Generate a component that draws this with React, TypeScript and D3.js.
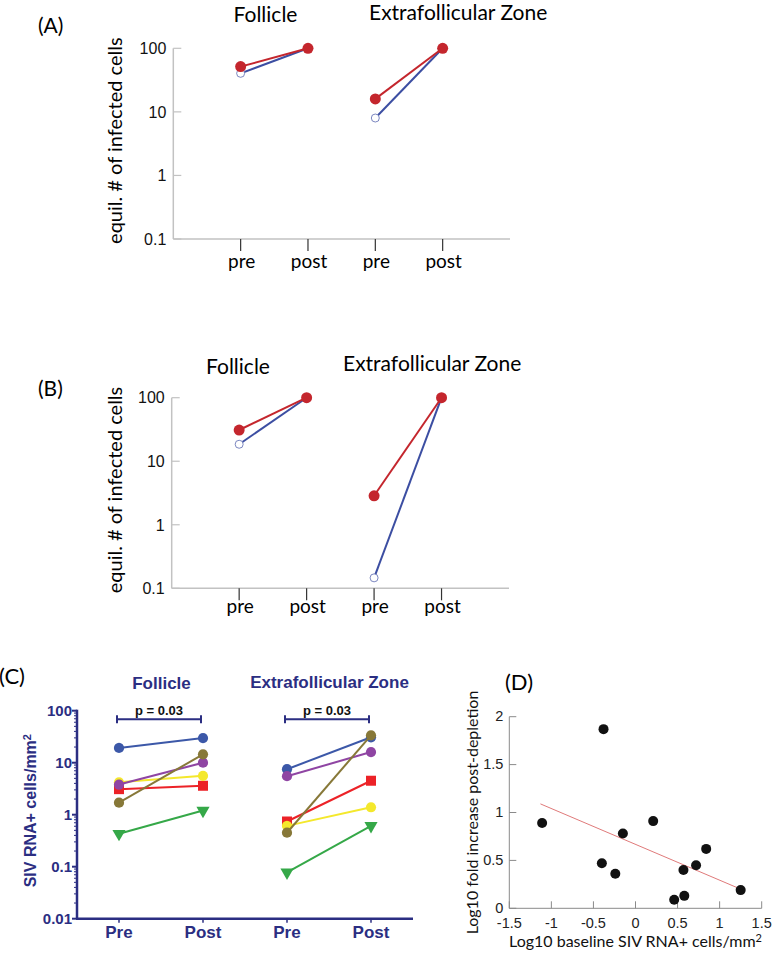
import React, { useRef, useEffect } from 'react';
import * as d3 from 'd3';

// (A) and (B): model equilibrium, pre vs post depletion
const abCategories = ['pre', 'post', 'pre', 'post'];
const abTicks = [0.1, 1, 10, 100];
const aFollicleRed = [51.5, 100];
const aFollicleBlue = [40.4, 100];
const aExtraRed = [16, 100];
const aExtraBlue = [8, 100];
const bFollicleRed = [31, 100];
const bFollicleBlue = [18.5, 100];
const bExtraRed = [2.86, 100];
const bExtraBlue = [0.146, 100];

// (C): SIV RNA+ cells per animal
const cCategories = ['Pre', 'Post', 'Pre', 'Post'];
const cTicks = [0.01, 0.1, 1, 10, 100];
const cColors = ['#3c58a8', '#ec2227', '#f4e82c', '#8f45a3', '#877838', '#35a848'];
const cShapes = ['circle', 'square', 'circle', 'circle', 'circle', 'triangle'];
const cFollicle = [[19.2, 29.8], [3.1, 3.6], [4.2, 5.6], [3.8, 10], [1.7, 14.5], [0.43, 1.2]];
const cExtra = [[7.5, 30.8], [0.74, 4.5], [0.61, 1.39], [5.5, 16], [0.45, 33.6], [0.078, 0.61]];
const cPValues = ['p = 0.03', 'p = 0.03'];

// (D): fold increase vs baseline
const dTicksX = [-1.5, -1, -0.5, 0, 0.5, 1, 1.5];
const dTicksY = [0, 0.5, 1, 1.5, 2];
const dBaseline = [-1.11, -0.38, -0.4, -0.24, -0.15, 0.21, 0.46, 0.57, 0.58, 0.72, 0.84, 1.25];
const dFold = [0.89, 1.87, 0.47, 0.36, 0.78, 0.91, 0.09, 0.4, 0.13, 0.45, 0.62, 0.19];
const dFitX = [-1.13, 1.25];
const dFitY = [1.09, 0.2];

const calibri = 'Lato, "Open Sans", sans-serif';
const arial = '"Liberation Sans", Arial, sans-serif';
const navy = '#2b2e82';

const drawModel = (svg, cfg, reds, blues) => {
  const x = d3.scaleLinear().domain([0, 5]).range([cfg.left, cfg.right]);
  const y = d3.scaleLog().domain([0.1, 100]).range([cfg.bottom, cfg.top]);
  const g = svg.append('g');

  g.append('text').attr('x', 38).attr('y', cfg.tagY).attr('font-family', calibri)
    .attr('font-size', 21).text(cfg.tag);
  g.append('text').attr('x', cfg.follicleX).attr('y', cfg.follicleY).attr('text-anchor', 'middle')
    .attr('font-family', calibri).attr('font-size', 21).text('Follicle');
  g.append('text').attr('x', cfg.extraX).attr('y', cfg.extraY)
    .attr('font-family', calibri).attr('font-size', 21).text('Extrafollicular Zone');

  // y axis, ticks point inward
  g.append('line').attr('x1', cfg.left).attr('x2', cfg.left).attr('y1', y(100)).attr('y2', y(0.1))
    .attr('stroke', '#c2c2c2').attr('stroke-width', 1.5);
  abTicks.forEach(t => {
    g.append('line').attr('x1', cfg.left).attr('x2', cfg.left + 8).attr('y1', y(t)).attr('y2', y(t))
      .attr('stroke', '#c2c2c2').attr('stroke-width', 1.2);
    g.append('text').attr('x', cfg.left - 7).attr('y', y(t)).attr('dy', '0.36em')
      .attr('text-anchor', 'end').attr('font-family', arial).attr('font-size', 16).attr('fill', '#111')
      .text(t);
  });
  g.append('text')
    .attr('transform', `translate(115,${(y(100) + y(0.1)) / 2 - 3}) rotate(-90)`)
    .attr('text-anchor', 'middle').attr('dy', '0.35em').attr('font-family', calibri).attr('font-size', 20)
    .text('equil. # of infected cells');

  // x axis
  g.append('line').attr('x1', cfg.left).attr('x2', cfg.right).attr('y1', cfg.bottom).attr('y2', cfg.bottom)
    .attr('stroke', '#c2c2c2').attr('stroke-width', 1.5);
  abCategories.forEach((c, i) => {
    g.append('line').attr('x1', x(i + 1)).attr('x2', x(i + 1)).attr('y1', cfg.bottom).attr('y2', cfg.bottom + 12)
      .attr('stroke', '#333').attr('stroke-width', 1.2);
    g.append('text').attr('x', x(i + 1) + 1).attr('y', cfg.labelY).attr('text-anchor', 'middle')
      .attr('font-family', calibri).attr('font-size', 19).text(c);
  });

  const line = d3.line().x(d => d[0]).y(d => d[1]);
  [0, 1].forEach(k => {
    const xs = [x(2 * k + 1), x(2 * k + 2)];
    const bPts = blues[k].map((v, i) => [xs[i], y(v)]);
    const rPts = reds[k].map((v, i) => [xs[i], y(v)]);
    g.append('path').attr('d', line(bPts)).attr('fill', 'none').attr('stroke', '#3c4ea2').attr('stroke-width', 2);
    g.selectAll(null).data(bPts).enter().append('circle')
      .attr('cx', d => d[0]).attr('cy', d => d[1]).attr('r', 4)
      .attr('fill', 'white').attr('stroke', '#5a68b0').attr('stroke-width', 0.8);
    g.append('path').attr('d', line(rPts)).attr('fill', 'none').attr('stroke', '#c4262d').attr('stroke-width', 2);
    g.selectAll(null).data(rPts).enter().append('circle')
      .attr('cx', d => d[0]).attr('cy', d => d[1]).attr('r', 5.5).attr('fill', '#c4262d');
  });
};

const drawMeasured = (svg) => {
  const x = d3.scaleLinear().domain([-0.5, 3.5]).range([77, 413]);
  const y = d3.scaleLog().domain([0.01, 100]).range([918.7, 710.7]);
  const g = svg.append('g');

  g.append('text').attr('x', -1).attr('y', 684).attr('font-family', calibri).attr('font-size', 22).text('(C)');
  g.append('text').attr('x', 161.5).attr('y', 689).attr('text-anchor', 'middle').attr('font-family', arial)
    .attr('font-weight', 'bold').attr('font-size', 17).attr('fill', navy).text('Follicle');
  g.append('text').attr('x', 329.5).attr('y', 688).attr('text-anchor', 'middle').attr('font-family', arial)
    .attr('font-weight', 'bold').attr('font-size', 17).attr('fill', navy).text('Extrafollicular Zone');

  // y axis with log minor ticks
  const left = x(-0.5);
  g.append('line').attr('x1', left).attr('x2', left).attr('y1', y(100) - 1).attr('y2', y(0.01))
    .attr('stroke', navy).attr('stroke-width', 2.5);
  cTicks.forEach(t => {
    g.append('line').attr('x1', left - 5).attr('x2', left).attr('y1', y(t)).attr('y2', y(t))
      .attr('stroke', navy).attr('stroke-width', 2);
    g.append('text').attr('x', left - 5).attr('y', y(t)).attr('dy', '0.36em').attr('text-anchor', 'end')
      .attr('font-family', arial).attr('font-weight', 'bold').attr('font-size', 15).attr('fill', navy)
      .text(t);
  });
  cTicks.slice(0, -1).forEach(t => {
    d3.range(2, 10).forEach(m => {
      g.append('line').attr('x1', left - 3).attr('x2', left).attr('y1', y(t * m)).attr('y2', y(t * m))
        .attr('stroke', navy).attr('stroke-width', 1);
    });
  });
  const yl = g.append('text')
    .attr('transform', `translate(30,${(y(100) + y(0.01)) / 2 - 4}) rotate(-90)`)
    .attr('text-anchor', 'middle').attr('dy', '0.35em').attr('font-family', arial).attr('font-weight', 'bold')
    .attr('font-size', 16).attr('fill', navy);
  yl.append('tspan').text('SIV RNA+ cells/mm');
  yl.append('tspan').attr('dy', '-0.45em').attr('font-size', 11).text('2');

  // x axis
  g.append('line').attr('x1', left - 1).attr('x2', x(3.5)).attr('y1', y(0.01)).attr('y2', y(0.01))
    .attr('stroke', navy).attr('stroke-width', 2.5);
  cCategories.forEach((c, i) => {
    g.append('line').attr('x1', x(i)).attr('x2', x(i)).attr('y1', y(0.01)).attr('y2', y(0.01) + 4)
      .attr('stroke', navy).attr('stroke-width', 1.5);
    g.append('text').attr('x', x(i)).attr('y', 938).attr('text-anchor', 'middle').attr('font-family', arial)
      .attr('font-weight', 'bold').attr('font-size', 17).attr('fill', navy).text(c);
  });

  // significance brackets
  cPValues.forEach((p, k) => {
    const x1 = x(2 * k) - 2;
    const x2 = x(2 * k + 1) - 2;
    const by = 719.3;
    g.append('path').attr('d', `M${x1},${by - 4}V${by + 4}M${x1},${by}H${x2}M${x2},${by - 4}V${by + 4}`)
      .attr('fill', 'none').attr('stroke', navy).attr('stroke-width', 2);
    g.append('text').attr('x', (x1 + x2) / 2).attr('y', 714.5).attr('text-anchor', 'middle')
      .attr('font-family', arial).attr('font-weight', 'bold').attr('font-size', 13).attr('fill', '#111').text(p);
  });

  const line = d3.line().x(d => d[0]).y(d => d[1]);
  const symbolFor = (s) => {
    if (s === 'square') return d3.symbol(d3.symbolSquare, 100)();
    if (s === 'triangle') return d3.symbol(d3.symbolTriangle, 75)();
    return d3.symbol(d3.symbolCircle, 82)();
  };
  [cFollicle, cExtra].forEach((grp, k) => {
    grp.forEach((vals, s) => {
      const pts = vals.map((v, i) => [x(2 * k + i), y(v)]);
      g.append('path').attr('d', line(pts)).attr('fill', 'none').attr('stroke', cColors[s]).attr('stroke-width', 2);
      pts.forEach(p => {
        g.append('path').attr('d', symbolFor(cShapes[s]))
          .attr('transform', `translate(${p[0]},${p[1]})${cShapes[s] === 'triangle' ? ' rotate(180)' : ''}`)
          .attr('fill', cColors[s]);
      });
    });
  });
};

const drawScatter = (svg) => {
  const x = d3.scaleLinear().domain([-1.5, 1.5]).range([509.3, 761.7]);
  const y = d3.scaleLinear().domain([0, 2]).range([908.3, 716.7]);
  const g = svg.append('g');
  const grey = '#8a8a8a';

  g.append('text').attr('x', 505).attr('y', 690).attr('font-family', calibri).attr('font-size', 22).text('(D)');

  g.append('line').attr('x1', x(-1.5)).attr('x2', x(-1.5)).attr('y1', y(2)).attr('y2', y(0))
    .attr('stroke', grey).attr('stroke-width', 1);
  g.append('line').attr('x1', x(-1.5)).attr('x2', x(1.5)).attr('y1', y(0)).attr('y2', y(0))
    .attr('stroke', grey).attr('stroke-width', 1);
  dTicksY.forEach(t => {
    g.append('line').attr('x1', x(-1.5)).attr('x2', x(-1.5) + 7).attr('y1', y(t)).attr('y2', y(t))
      .attr('stroke', grey).attr('stroke-width', 1);
    g.append('text').attr('x', x(-1.5) - 6).attr('y', y(t) - 1).attr('dy', '0.36em').attr('text-anchor', 'end')
      .attr('font-family', arial).attr('font-size', 14.5).attr('fill', '#222').text(t);
  });
  dTicksX.forEach(t => {
    g.append('line').attr('x1', x(t)).attr('x2', x(t)).attr('y1', y(0)).attr('y2', y(0) - 7)
      .attr('stroke', grey).attr('stroke-width', 1);
    g.append('text').attr('x', x(t)).attr('y', 928).attr('text-anchor', 'middle')
      .attr('font-family', arial).attr('font-size', 14.5).attr('fill', '#222').text(t);
  });

  const xl = g.append('text').attr('x', x(0)).attr('y', 947).attr('text-anchor', 'middle')
    .attr('font-family', calibri).attr('font-size', 16).attr('fill', '#111');
  xl.append('tspan').text('Log10 baseline SIV RNA+ cells/mm');
  xl.append('tspan').attr('dy', '-0.45em').attr('font-size', 11).text('2');
  g.append('text')
    .attr('transform', `translate(472,${(y(0) + y(2)) / 2}) rotate(-90)`)
    .attr('text-anchor', 'middle').attr('dy', '0.35em').attr('font-family', calibri).attr('font-size', 16)
    .attr('fill', '#111').text('Log10 fold increase post-depletion');

  const fit = dFitX.map((v, i) => [x(v), y(dFitY[i])]);
  g.append('path').attr('d', d3.line()(fit)).attr('fill', 'none').attr('stroke', '#e07a7a').attr('stroke-width', 1);

  g.selectAll(null).data(dBaseline).enter().append('circle')
    .attr('cx', d => x(d)).attr('cy', (d, i) => y(dFold[i])).attr('r', 5).attr('fill', '#111');
};

const App = () => {
  const ref = useRef(null);

  useEffect(() => {
    if (!ref.current) return;
    const svg = d3.select(ref.current);
    svg.selectAll('*').remove();

    drawModel(svg, {
      tag: '(A)', tagY: 33, left: 173.3, right: 510, top: 48.3, bottom: 239, labelY: 268,
      follicleX: 265.5, follicleY: 22, extraX: 369, extraY: 20
    }, [aFollicleRed, aExtraRed], [aFollicleBlue, aExtraBlue]);

    drawModel(svg, {
      tag: '(B)', tagY: 396, left: 171.7, right: 509, top: 397.7, bottom: 588.3, labelY: 613,
      follicleX: 238, follicleY: 374, extraX: 343, extraY: 370.7
    }, [bFollicleRed, bExtraRed], [bFollicleBlue, bExtraBlue]);

    drawMeasured(svg);
    drawScatter(svg);
  }, []);

  return (
    <svg ref={ref} width={773} height={956}
      style={{ position: 'absolute', left: 0, top: 0, background: 'white' }} />
  );
};

export default App;
